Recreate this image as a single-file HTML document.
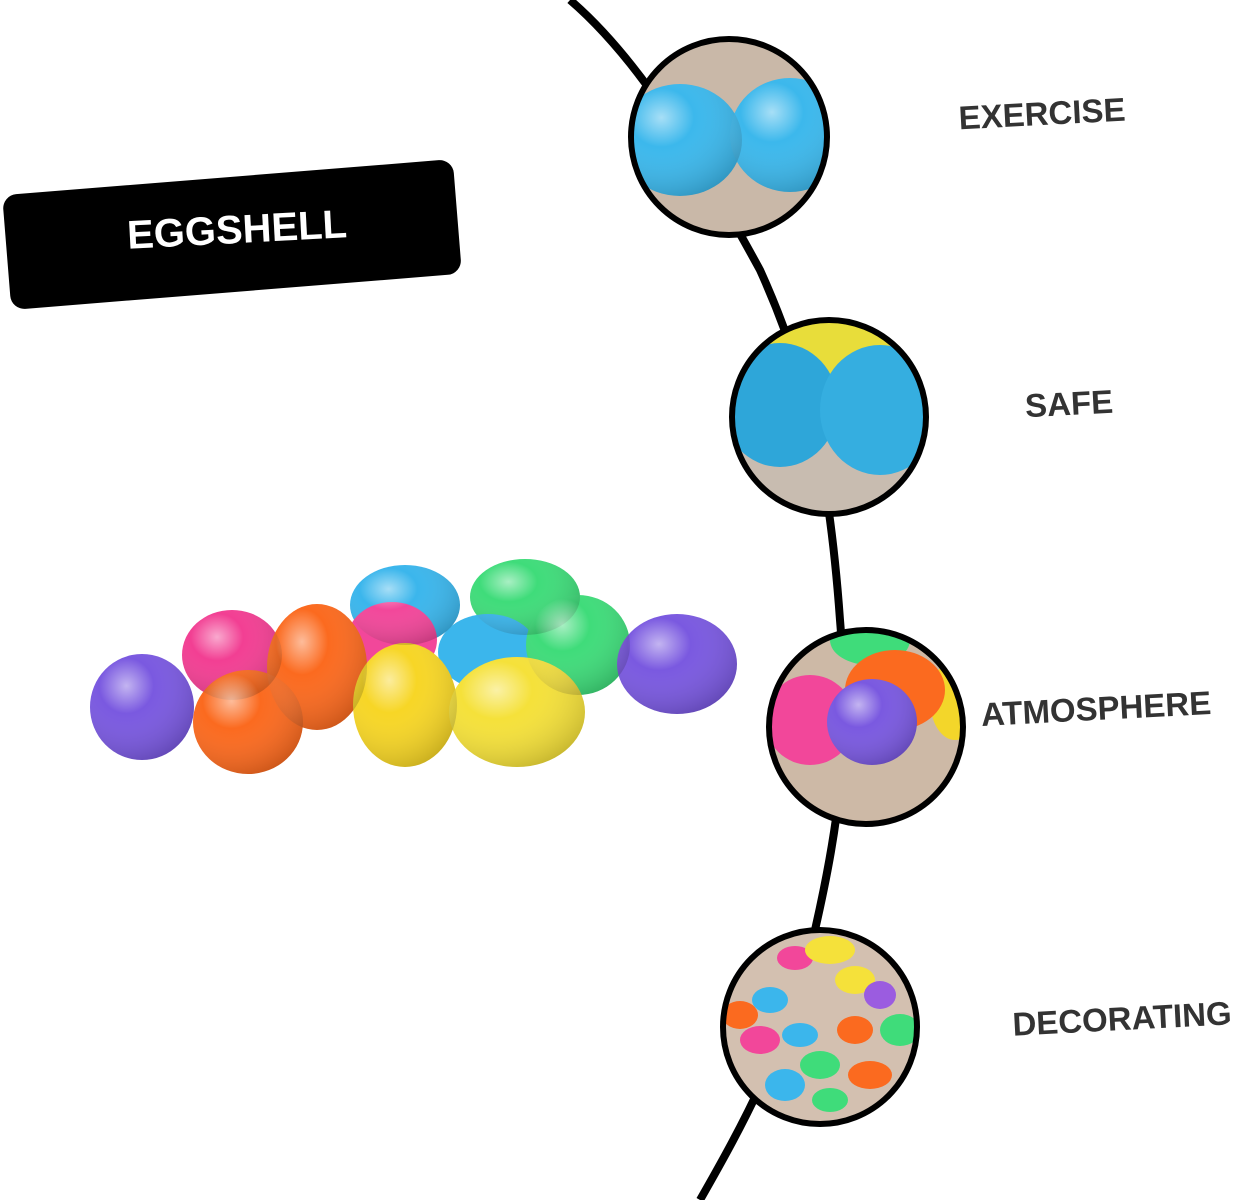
<!DOCTYPE html>
<html><head><meta charset="utf-8"><style>
html,body{margin:0;padding:0;background:#fff;width:1239px;height:1200px;overflow:hidden}
text{font-family:"Liberation Sans",sans-serif;font-weight:bold}
</style></head><body>
<svg width="1239" height="1200" viewBox="0 0 1239 1200" xmlns="http://www.w3.org/2000/svg">
<defs>
<radialGradient id="g" cx="35%" cy="30%" r="75%"><stop offset="0" stop-color="#fff" stop-opacity=".55"/><stop offset=".35" stop-color="#fff" stop-opacity="0"/><stop offset="1" stop-color="#000" stop-opacity=".18"/></radialGradient>
<clipPath id="c1"><circle cx="729" cy="137" r="97"/></clipPath>
<clipPath id="c2"><circle cx="829" cy="417" r="95"/></clipPath>
<clipPath id="c3"><circle cx="866" cy="727" r="95"/></clipPath>
<clipPath id="c4"><circle cx="820" cy="1027" r="95"/></clipPath>
</defs>
<path d="M570 0 C640 60 700 160 760 270 C810 380 830 480 840 620 C850 740 840 820 815 930 C790 1040 740 1130 700 1200" fill="none" stroke="#000" stroke-width="8"/>
<!-- label -->
<rect x="6" y="177" width="452" height="115" rx="14" fill="#000" transform="rotate(-4.6 232 234)"/>
<text x="237" y="243" font-size="40" fill="#fff" text-anchor="middle" transform="rotate(-3 237 230)">EGGSHELL</text>
<!-- eggs cluster -->
<g>
<ellipse cx="405" cy="605" rx="55" ry="40" fill="#3bb6ec"/>
<ellipse cx="525" cy="597" rx="55" ry="38" fill="#3fdc7a"/>
<ellipse cx="392" cy="640" rx="45" ry="38" fill="#f2479a"/>
<ellipse cx="232" cy="655" rx="50" ry="45" fill="#f23f93"/>
<ellipse cx="488" cy="652" rx="50" ry="38" fill="#3bb6ec"/>
<ellipse cx="578" cy="645" rx="52" ry="50" fill="#3fdc7a"/>
<ellipse cx="677" cy="664" rx="60" ry="50" fill="#7a59e0"/>
<ellipse cx="317" cy="667" rx="50" ry="63" fill="#fb6a1f"/>
<ellipse cx="142" cy="707" rx="52" ry="53" fill="#7a59e0"/>
<ellipse cx="248" cy="722" rx="55" ry="52" fill="#fb6a1f"/>
<ellipse cx="405" cy="705" rx="52" ry="62" fill="#f7d626"/>
<ellipse cx="517" cy="712" rx="68" ry="55" fill="#f5e13a"/>
<g fill="url(#g)">
<ellipse cx="405" cy="605" rx="55" ry="40"/><ellipse cx="525" cy="597" rx="55" ry="38"/><ellipse cx="232" cy="655" rx="50" ry="45"/><ellipse cx="578" cy="645" rx="52" ry="50"/><ellipse cx="677" cy="664" rx="60" ry="50"/><ellipse cx="317" cy="667" rx="50" ry="63"/><ellipse cx="142" cy="707" rx="52" ry="53"/><ellipse cx="248" cy="722" rx="55" ry="52"/><ellipse cx="405" cy="705" rx="52" ry="62"/><ellipse cx="517" cy="712" rx="68" ry="55"/>
</g></g>
<!-- circle 1 -->
<g clip-path="url(#c1)"><rect x="620" y="30" width="220" height="220" fill="#c9b8a8"/>
<ellipse cx="680" cy="140" rx="62" ry="56" fill="#3cb8ec"/><ellipse cx="790" cy="135" rx="60" ry="57" fill="#3cb8ec"/>
<ellipse cx="680" cy="140" rx="62" ry="56" fill="url(#g)"/><ellipse cx="790" cy="135" rx="60" ry="57" fill="url(#g)"/></g>
<circle cx="729" cy="137" r="98" fill="none" stroke="#000" stroke-width="6"/>
<!-- circle 2 -->
<g clip-path="url(#c2)"><rect x="720" y="310" width="220" height="220" fill="#c8bcb0"/>
<ellipse cx="830" cy="345" rx="60" ry="30" fill="#e8dd3a"/>
<ellipse cx="780" cy="405" rx="58" ry="62" fill="#2ea6d9"/><ellipse cx="880" cy="410" rx="60" ry="65" fill="#35aee0"/></g>
<circle cx="829" cy="417" r="97" fill="none" stroke="#000" stroke-width="6"/>
<!-- circle 3 -->
<g clip-path="url(#c3)"><rect x="760" y="620" width="220" height="220" fill="#cdb9a6"/>
<ellipse cx="870" cy="640" rx="40" ry="25" fill="#3fdc7a"/>
<ellipse cx="955" cy="700" rx="25" ry="40" fill="#f3d62a"/>
<ellipse cx="895" cy="690" rx="50" ry="40" fill="#fb6a1f"/>
<ellipse cx="810" cy="720" rx="45" ry="45" fill="#f2479a"/>
<ellipse cx="872" cy="722" rx="45" ry="43" fill="#7a59e0"/>
<ellipse cx="872" cy="722" rx="45" ry="43" fill="url(#g)"/></g>
<circle cx="866" cy="727" r="97" fill="none" stroke="#000" stroke-width="6"/>
<!-- circle 4 -->
<g clip-path="url(#c4)"><rect x="715" y="920" width="220" height="220" fill="#d3c0b0"/>
<ellipse cx="795" cy="958" rx="18" ry="12" fill="#f2479a"/><ellipse cx="830" cy="950" rx="25" ry="14" fill="#f5e13a"/>
<ellipse cx="855" cy="980" rx="20" ry="14" fill="#f5e13a"/><ellipse cx="880" cy="995" rx="16" ry="14" fill="#9b5ce0"/>
<ellipse cx="770" cy="1000" rx="18" ry="13" fill="#3bb6ec"/><ellipse cx="740" cy="1015" rx="18" ry="14" fill="#fb6a1f"/>
<ellipse cx="760" cy="1040" rx="20" ry="14" fill="#f2479a"/><ellipse cx="800" cy="1035" rx="18" ry="12" fill="#3bb6ec"/>
<ellipse cx="855" cy="1030" rx="18" ry="14" fill="#fb6a1f"/><ellipse cx="900" cy="1030" rx="20" ry="16" fill="#3fdc7a"/>
<ellipse cx="820" cy="1065" rx="20" ry="14" fill="#3fdc7a"/><ellipse cx="785" cy="1085" rx="20" ry="16" fill="#3bb6ec"/>
<ellipse cx="870" cy="1075" rx="22" ry="14" fill="#fb6a1f"/><ellipse cx="830" cy="1100" rx="18" ry="12" fill="#3fdc7a"/></g>
<circle cx="820" cy="1027" r="97" fill="none" stroke="#000" stroke-width="6"/>
<!-- labels -->
<g fill="#333" font-size="33" text-anchor="middle">
<text x="1042" y="125" transform="rotate(-3 1042 113)">EXERCISE</text>
<text x="1069" y="415" transform="rotate(-3 1069 403)">SAFE</text>
<text x="1096" y="720" transform="rotate(-3 1096 708)">ATMOSPHERE</text>
<text x="1122" y="1030" transform="rotate(-3 1122 1018)">DECORATING</text>
</g>
</svg>
</body></html>
